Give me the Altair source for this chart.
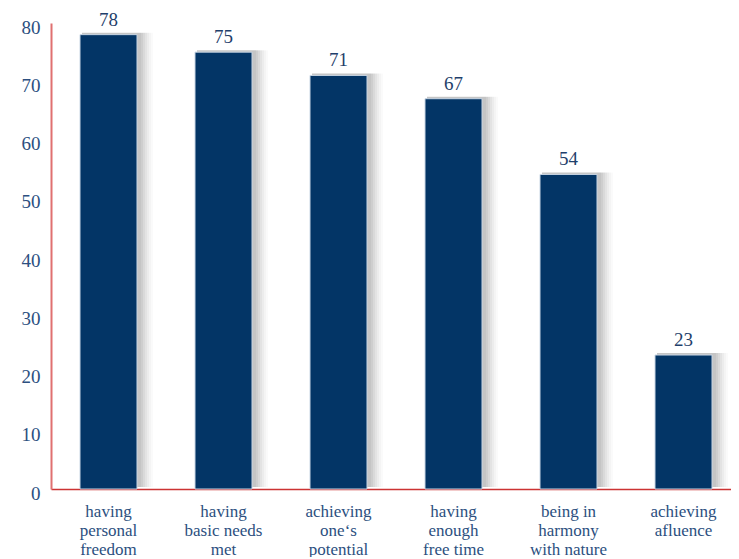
import altair as alt
import pandas as pd

categories = [
    "having|personal|freedom",
    "having|basic needs|met",
    "achieving|one‘s|potential",
    "having|enough|free time",
    "being in|harmony|with nature",
    "achieving|afluence",
]
values = [78, 75, 71, 67, 54, 23]

df = pd.DataFrame({"cat": categories, "val": values})

FONT = "Liberation Serif"
TXT = "#2c4f80"

x_enc = alt.X(
    "cat:N",
    sort=None,
    title=None,
    scale=alt.Scale(range=[0, 690], paddingInner=0.5, paddingOuter=0.25),
    axis=alt.Axis(
        labelAngle=0,
        labelExpr="split(datum.label, '|')",
        labelFont=FONT,
        labelFontSize=17,
        labelColor=TXT,
        labelLineHeight=19,
        labelPadding=14,
        labelBaseline="top",
        ticks=False,
        domainColor="#cc3333",
        domainWidth=1.5,
    ),
)
y_enc = alt.Y(
    "val:Q",
    title=None,
    scale=alt.Scale(domain=[0, 80], nice=False),
    axis=alt.Axis(
        values=[0, 10, 20, 30, 40, 50, 60, 70, 80],
        grid=False,
        ticks=False,
        labelFont=FONT,
        labelFontSize=19,
        labelColor=TXT,
        labelPadding=11,
        labelOffset=4,
        domain=True,
        domainColor="#e07070",
        domainWidth=2,
        domainOpacity=1,
    ),
)

base = alt.Chart(df).encode(x=x_enc, y=y_enc)

shadows = []
for dx, sz, op in [(3, 59, 0.05), (4, 61, 0.045), (5, 63, 0.04), (6, 65, 0.035), (7, 67, 0.03), (8, 69, 0.025), (9, 71, 0.02)]:
    shadows.append(
        base.mark_bar(color="black", opacity=op, size=sz, xOffset=dx, yOffset=-2)
    )

bars = base.mark_bar(color="#033566", size=57, stroke="#c9d6e4", strokeWidth=1)

labels = base.mark_text(
    dy=-9, baseline="alphabetic", font=FONT, fontSize=19, color="#1f3f6b"
).encode(text="val:Q")

chart = alt.layer(*shadows, bars, labels).properties(
    width=680,
    height=466,
    padding={"left": 43, "top": 15, "right": 0, "bottom": 68},
    autosize=alt.AutoSizeParams(type="none"),
).configure(background="white").configure_view(stroke=None).configure_axisY(
    domain=True, domainColor="#e07070", domainWidth=2
)

chart.save("out.html", embed_options={"renderer": "svg", "actions": False})
